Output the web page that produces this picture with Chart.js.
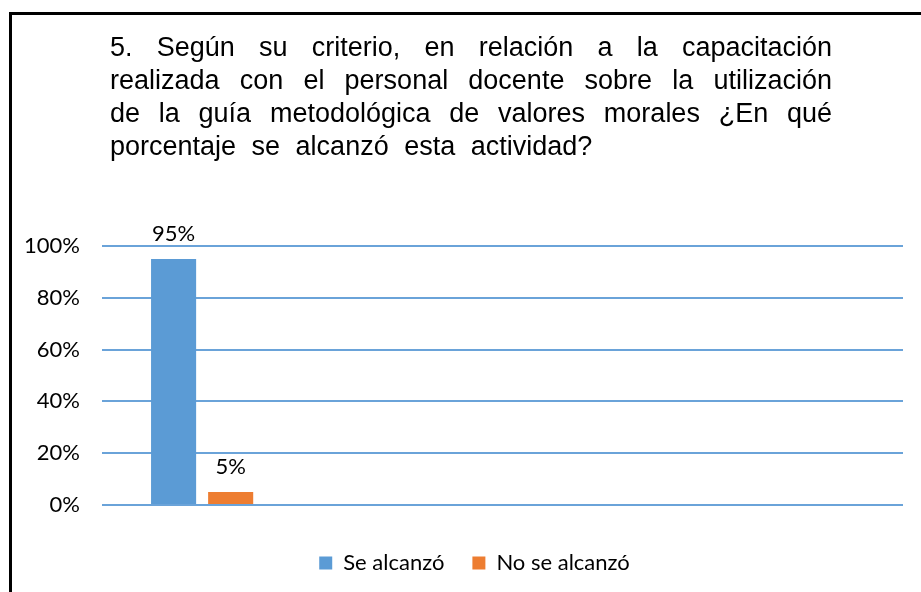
<!DOCTYPE html>
<html>
<head>
<meta charset="utf-8">
<script src="https://cdn.jsdelivr.net/npm/chart.js@4"></script>
<style>
    html, body { margin: 0; padding: 0; background: #fff; overflow: hidden; }
    #wrap { position: relative; width: 921px; height: 592px; }
    #frame {
        position: absolute; left: 9px; top: 12px;
        width: 1000px; height: 700px;
        border: 3px solid #000; box-sizing: border-box;
    }
    #titulo {
        position: absolute; left: 110px; top: 31px; width: 722px;
        font-family: "Liberation Sans", Arial, sans-serif;
        font-size: 27px; line-height: 33px; color: #000;
    }
    #titulo div { text-align: justify; text-align-last: justify; white-space: nowrap; }
    #titulo div.last { text-align-last: left; word-spacing: 8px; }
    #myChart { position: absolute; left: 0; top: 0; }
</style>
</head>
<body>
<div id="wrap">
    <div id="frame"></div>
    <canvas id="myChart" width="921" height="592"></canvas>
    <div id="titulo"></div>
</div>
<script>
// titulo
var tituloLineas = [
    '5. Según su criterio, en relación a la capacitación',
    'realizada con el personal docente sobre la utilización',
    'de la guía metodológica de valores morales ¿En qué',
    'porcentaje se alcanzó esta actividad?'
];

// setup
var categorias = ['', '', '', ''];
var seAlcanzo = [95];
var noSeAlcanzo = [5];
var ticksY = [0, 20, 40, 60, 80, 100];

var tituloDiv = document.getElementById('titulo');
tituloLineas.forEach(function (t, i) {
    var d = document.createElement('div');
    d.textContent = t;
    if (i === tituloLineas.length - 1) d.className = 'last';
    tituloDiv.appendChild(d);
});

const fuente = 'Lato';

// etiquetas encima de las barras
const etiquetasBarras = {
    id: 'etiquetasBarras',
    afterDatasetsDraw(chart) {
        const ctx = chart.ctx;
        ctx.save();
        ctx.font = '22px ' + fuente;
        ctx.fillStyle = '#000';
        ctx.textAlign = 'center';
        ctx.textBaseline = 'alphabetic';
        chart.data.datasets.forEach(function (ds, i) {
            chart.getDatasetMeta(i).data.forEach(function (bar, j) {
                if (ds.data[j] == null) return;
                ctx.fillText(ds.data[j] + '%', bar.x, bar.y - 18);
            });
        });
        ctx.restore();
    }
};

// mover la leyenda un poco a la derecha
const moverLeyenda = {
    id: 'moverLeyenda',
    afterLayout(chart) {
        chart.legend.left += 23;
        chart.legend.right += 23;
    }
};

const data =
{
    labels: categorias,
    datasets:
    [
        {
            label: 'Se alcanzó',
            data: seAlcanzo,
            backgroundColor: '#5B9BD5',
            categoryPercentage: 0.57,
            barPercentage: 0.79
        },
        {
            label: 'No se alcanzó',
            data: noSeAlcanzo,
            backgroundColor: '#ED7D31',
            categoryPercentage: 0.57,
            barPercentage: 0.79
        }
    ]
};

const config =
{
    type: 'bar',
    data,
    plugins: [etiquetasBarras, moverLeyenda],
    options:
    {
        responsive: false,
        animation: false,
        layout: { padding: { top: 246, left: 0, right: 18, bottom: 8 } },
        plugins:
        {
            tooltip: { enabled: false },
            legend:
            {
                position: 'bottom',
                labels:
                {
                    boxWidth: 13,
                    boxHeight: 13,
                    padding: 28,
                    color: '#000',
                    font: { family: fuente, size: 22 }
                }
            }
        },
        scales:
        {
            x:
            {
                grid: { display: false },
                border: { display: false },
                ticks: { display: false },
                afterFit: function (s) { s.height = 19; }
            },
            y:
            {
                min: 0,
                max: 100,
                afterBuildTicks: function (s) { s.ticks = ticksY.map(function (v) { return { value: v }; }); },
                afterFit: function (s) { s.width = 102; },
                border: { display: false },
                grid: { color: '#6AA3D9', lineWidth: 2, drawTicks: false },
                ticks:
                {
                    padding: 22,
                    color: '#000',
                    font: { family: fuente, size: 22 },
                    callback: function (v) { return v + '%'; }
                }
            }
        }
    }
};

const myChart = new Chart(document.getElementById('myChart'), config);
</script>
</body>
</html>
